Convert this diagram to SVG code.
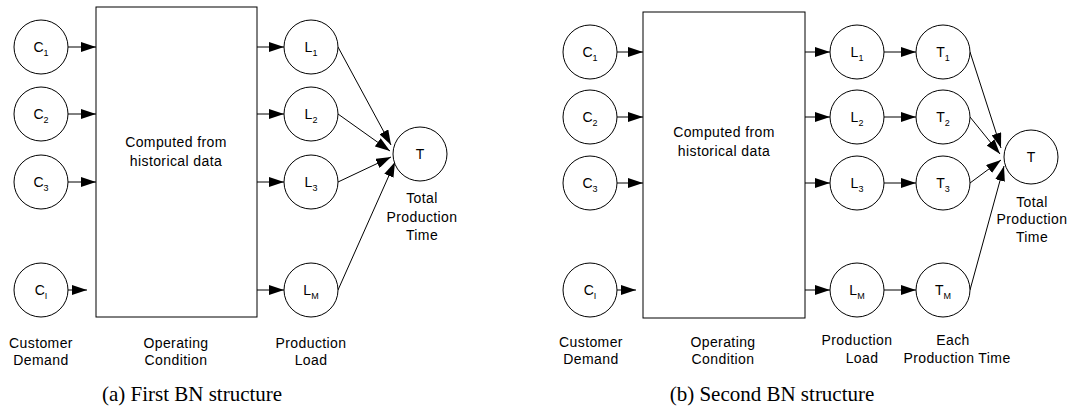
<svg xmlns="http://www.w3.org/2000/svg" width="1073" height="419" viewBox="0 0 1073 419">
<style>
.n{fill:#fff;stroke:#000;stroke-width:1}
.b{fill:#fff;stroke:#000;stroke-width:1}
.e{stroke:#000;stroke-width:1;fill:none;marker-end:url(#ah)}
.t{font-family:"Liberation Sans",Arial,sans-serif;font-size:14px;fill:#000;text-anchor:middle}
.l{font-family:"Liberation Sans",Arial,sans-serif;font-size:14px;fill:#000;text-anchor:middle;letter-spacing:0.4px}
.s{font-size:9px}
.cap{font-family:"Liberation Serif","Times New Roman",serif;font-size:21px;fill:#000;text-anchor:middle}
</style>
<defs>
<marker id="ah" markerUnits="userSpaceOnUse" markerWidth="16" markerHeight="10" refX="15" refY="5" orient="auto">
<path d="M0,0 L15,5 L0,10 z" fill="#000"/>
</marker>
</defs>
<rect width="1073" height="419" fill="#fff"/>

<g id="connectors">
<line class="e" x1="68" y1="47" x2="96" y2="47"/>
<line class="e" x1="68" y1="114" x2="96" y2="114"/>
<line class="e" x1="68" y1="182" x2="96" y2="182"/>
<line class="e" x1="60" y1="290" x2="87" y2="290"/>
<line class="e" x1="257" y1="47" x2="284" y2="47"/>
<line class="e" x1="257" y1="114" x2="284" y2="114"/>
<line class="e" x1="257" y1="182" x2="284" y2="182"/>
<line class="e" x1="257" y1="290" x2="284" y2="290"/>
<line class="e" x1="338" y1="47" x2="391" y2="145"/>
<line class="e" x1="338" y1="114" x2="390" y2="151"/>
<line class="e" x1="338" y1="182" x2="391" y2="157"/>
<line class="e" x1="338" y1="290" x2="395" y2="162"/>

<line class="e" x1="617" y1="52" x2="643" y2="52"/>
<line class="e" x1="617" y1="117" x2="643" y2="117"/>
<line class="e" x1="617" y1="183" x2="643" y2="183"/>
<line class="e" x1="609" y1="290" x2="636" y2="290"/>
<line class="e" x1="805" y1="52" x2="830" y2="52"/>
<line class="e" x1="805" y1="117" x2="830" y2="117"/>
<line class="e" x1="805" y1="183" x2="830" y2="183"/>
<line class="e" x1="805" y1="290" x2="830" y2="290"/>
<line class="e" x1="884" y1="52" x2="916" y2="52"/>
<line class="e" x1="884" y1="117" x2="916" y2="117"/>
<line class="e" x1="884" y1="183" x2="916" y2="183"/>
<line class="e" x1="884" y1="290" x2="916" y2="290"/>
<line class="e" x1="970" y1="52" x2="1001" y2="148"/>
<line class="e" x1="970" y1="117" x2="1000" y2="154"/>
<line class="e" x1="970" y1="183" x2="1001" y2="160"/>
<line class="e" x1="970" y1="290" x2="1004" y2="166"/>
</g>

<!-- Panel (a) -->
<g id="a-box"><rect class="b" x="96" y="7" width="161" height="310"/>
<text class="l" x="176" y="147">Computed from</text><text class="l" x="176" y="166">historical data</text></g>
<g id="a-C1"><circle class="n" cx="41" cy="47" r="27"/><text class="t" x="41" y="52">C<tspan class="s" dy="4">1</tspan></text></g>
<g id="a-C2"><circle class="n" cx="41" cy="114" r="27"/><text class="t" x="41" y="119">C<tspan class="s" dy="4">2</tspan></text></g>
<g id="a-C3"><circle class="n" cx="41" cy="182" r="27"/><text class="t" x="41" y="187">C<tspan class="s" dy="4">3</tspan></text></g>
<g id="a-CI"><circle class="n" cx="41" cy="290" r="27"/><text class="t" x="41" y="295">C<tspan class="s" dy="4">I</tspan></text></g>
<g id="a-L1"><circle class="n" cx="311" cy="47" r="27"/><text class="t" x="311" y="52">L<tspan class="s" dy="4">1</tspan></text></g>
<g id="a-L2"><circle class="n" cx="311" cy="114" r="27"/><text class="t" x="311" y="119">L<tspan class="s" dy="4">2</tspan></text></g>
<g id="a-L3"><circle class="n" cx="311" cy="182" r="27"/><text class="t" x="311" y="187">L<tspan class="s" dy="4">3</tspan></text></g>
<g id="a-LM"><circle class="n" cx="311" cy="290" r="27"/><text class="t" x="311" y="295">L<tspan class="s" dy="4">M</tspan></text></g>
<g id="a-T"><circle class="n" cx="420" cy="154" r="27"/><text class="t" x="420" y="159">T</text>
<text class="l" x="422" y="203">Total</text><text class="l" x="422" y="222">Production</text><text class="l" x="422" y="240">Time</text></g>
<g id="a-labels">
<text class="l" x="41" y="348">Customer</text><text class="l" x="41" y="365">Demand</text>
<text class="l" x="176" y="348">Operating</text><text class="l" x="176" y="365">Condition</text>
<text class="l" x="311" y="348">Production</text><text class="l" x="311" y="365">Load</text>
<text class="cap" x="192" y="401">(a) First BN structure</text>
</g>

<!-- Panel (b) -->
<g id="b-box"><rect class="b" x="643" y="12" width="162" height="306"/>
<text class="l" x="724" y="137">Computed from</text><text class="l" x="724" y="156">historical data</text></g>
<g id="b-C1"><circle class="n" cx="590" cy="52" r="27"/><text class="t" x="590" y="57">C<tspan class="s" dy="4">1</tspan></text></g>
<g id="b-C2"><circle class="n" cx="590" cy="117" r="27"/><text class="t" x="590" y="122">C<tspan class="s" dy="4">2</tspan></text></g>
<g id="b-C3"><circle class="n" cx="590" cy="183" r="27"/><text class="t" x="590" y="188">C<tspan class="s" dy="4">3</tspan></text></g>
<g id="b-CI"><circle class="n" cx="590" cy="290" r="27"/><text class="t" x="590" y="295">C<tspan class="s" dy="4">I</tspan></text></g>
<g id="b-L1"><circle class="n" cx="857" cy="52" r="27"/><text class="t" x="857" y="57">L<tspan class="s" dy="4">1</tspan></text></g>
<g id="b-L2"><circle class="n" cx="857" cy="117" r="27"/><text class="t" x="857" y="122">L<tspan class="s" dy="4">2</tspan></text></g>
<g id="b-L3"><circle class="n" cx="857" cy="183" r="27"/><text class="t" x="857" y="188">L<tspan class="s" dy="4">3</tspan></text></g>
<g id="b-LM"><circle class="n" cx="857" cy="290" r="27"/><text class="t" x="857" y="295">L<tspan class="s" dy="4">M</tspan></text></g>
<g id="b-T1"><circle class="n" cx="943" cy="52" r="27"/><text class="t" x="943" y="57">T<tspan class="s" dy="4">1</tspan></text></g>
<g id="b-T2"><circle class="n" cx="943" cy="117" r="27"/><text class="t" x="943" y="122">T<tspan class="s" dy="4">2</tspan></text></g>
<g id="b-T3"><circle class="n" cx="943" cy="183" r="27"/><text class="t" x="943" y="188">T<tspan class="s" dy="4">3</tspan></text></g>
<g id="b-TM"><circle class="n" cx="943" cy="290" r="27"/><text class="t" x="943" y="295">T<tspan class="s" dy="4">M</tspan></text></g>
<g id="b-T"><circle class="n" cx="1031" cy="157" r="27"/><text class="t" x="1031" y="162">T</text>
<text class="l" x="1032" y="207">Total</text><text class="l" x="1032" y="224">Production</text><text class="l" x="1032" y="242">Time</text></g>
<g id="b-labels">
<text class="l" x="591" y="347">Customer</text><text class="l" x="591" y="364">Demand</text>
<text class="l" x="723" y="347">Operating</text><text class="l" x="723" y="364">Condition</text>
<text class="l" x="857" y="345">Production</text><text class="l" x="862" y="363">Load</text>
<text class="l" x="953" y="345">Each</text><text class="l" x="957" y="363">Production Time</text>
<text class="cap" x="772" y="401">(b) Second BN structure</text>
</g>
</svg>
